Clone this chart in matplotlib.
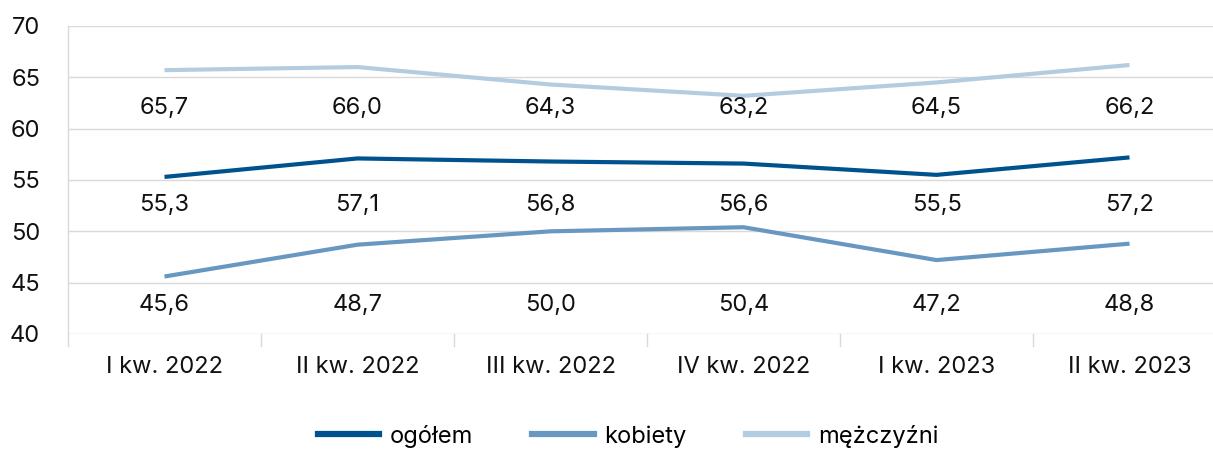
import matplotlib.pyplot as plt
from matplotlib.lines import Line2D

plt.rcParams['font.family'] = ['Inter', 'DejaVu Sans']

# Data
quarters = ['I kw. 2022', 'II kw. 2022', 'III kw. 2022', 'IV kw. 2022', 'I kw. 2023', 'II kw. 2023']
ogolem = [55.3, 57.1, 56.8, 56.6, 55.5, 57.2]
kobiety = [45.6, 48.7, 50.0, 50.4, 47.2, 48.8]
mezczyzni = [65.7, 66.0, 64.3, 63.2, 64.5, 66.2]

# name, values, colour, y level of the label row
series = [
    ('ogółem', ogolem, '#00528f', 52.6),
    ('kobiety', kobiety, '#6898c0', 42.8),
    ('mężczyźni', mezczyzni, '#b4cce0', 62.0),
]

FS = 17
W, H = 1213, 450
fig = plt.figure(figsize=(W / 100, H / 100), dpi=100)
ax = fig.add_axes([68 / W, 1 - 334 / H, 1158 / W, 308 / H])

x = list(range(len(quarters)))
for name, vals, color, row in series:
    ax.plot(x, vals, color=color, lw=3.0, solid_capstyle='butt', zorder=3)
    for xi, v in zip(x, vals):
        ax.text(xi, row, f'{v:.1f}'.replace('.', ','), ha='center', va='center',
                fontsize=FS, color='#111111')

ax.set_xlim(-0.5, 5.5)
ax.set_ylim(40, 70)
ax.set_yticks(range(40, 71, 5))
ax.grid(axis='y', color='#d9d9d9', lw=1)
ax.set_axisbelow(True)
for s in ['top', 'right', 'bottom', 'left']:
    ax.spines[s].set_visible(False)
ax.tick_params(axis='y', length=0, labelsize=FS, pad=20, labelcolor='#111111')

# category labels and boundary ticks
ax.set_xticks(x)
ax.set_xticklabels(quarters)
ax.tick_params(axis='x', length=0, labelsize=FS, pad=16, labelcolor='#111111')
for b in [i - 0.5 for i in range(len(quarters) + 1)]:
    ax.plot([b, b], [40, 38.8], color='#d9d9d9', lw=1, clip_on=False)
ax.plot([-0.5, -0.5], [40, 70], color='#d9d9d9', lw=1, clip_on=False)

handles = [Line2D([0], [0], color=c, lw=4.5) for _, _, c, _ in series]
fig.legend(handles, [n for n, _, _, _ in series], loc='center', bbox_to_anchor=(628 / W, 1 - 436 / H),
           ncol=3, frameon=False, fontsize=FS, handlelength=2.6, columnspacing=2.5,
           handletextpad=0.45)

fig.savefig('out.png', dpi=100)
